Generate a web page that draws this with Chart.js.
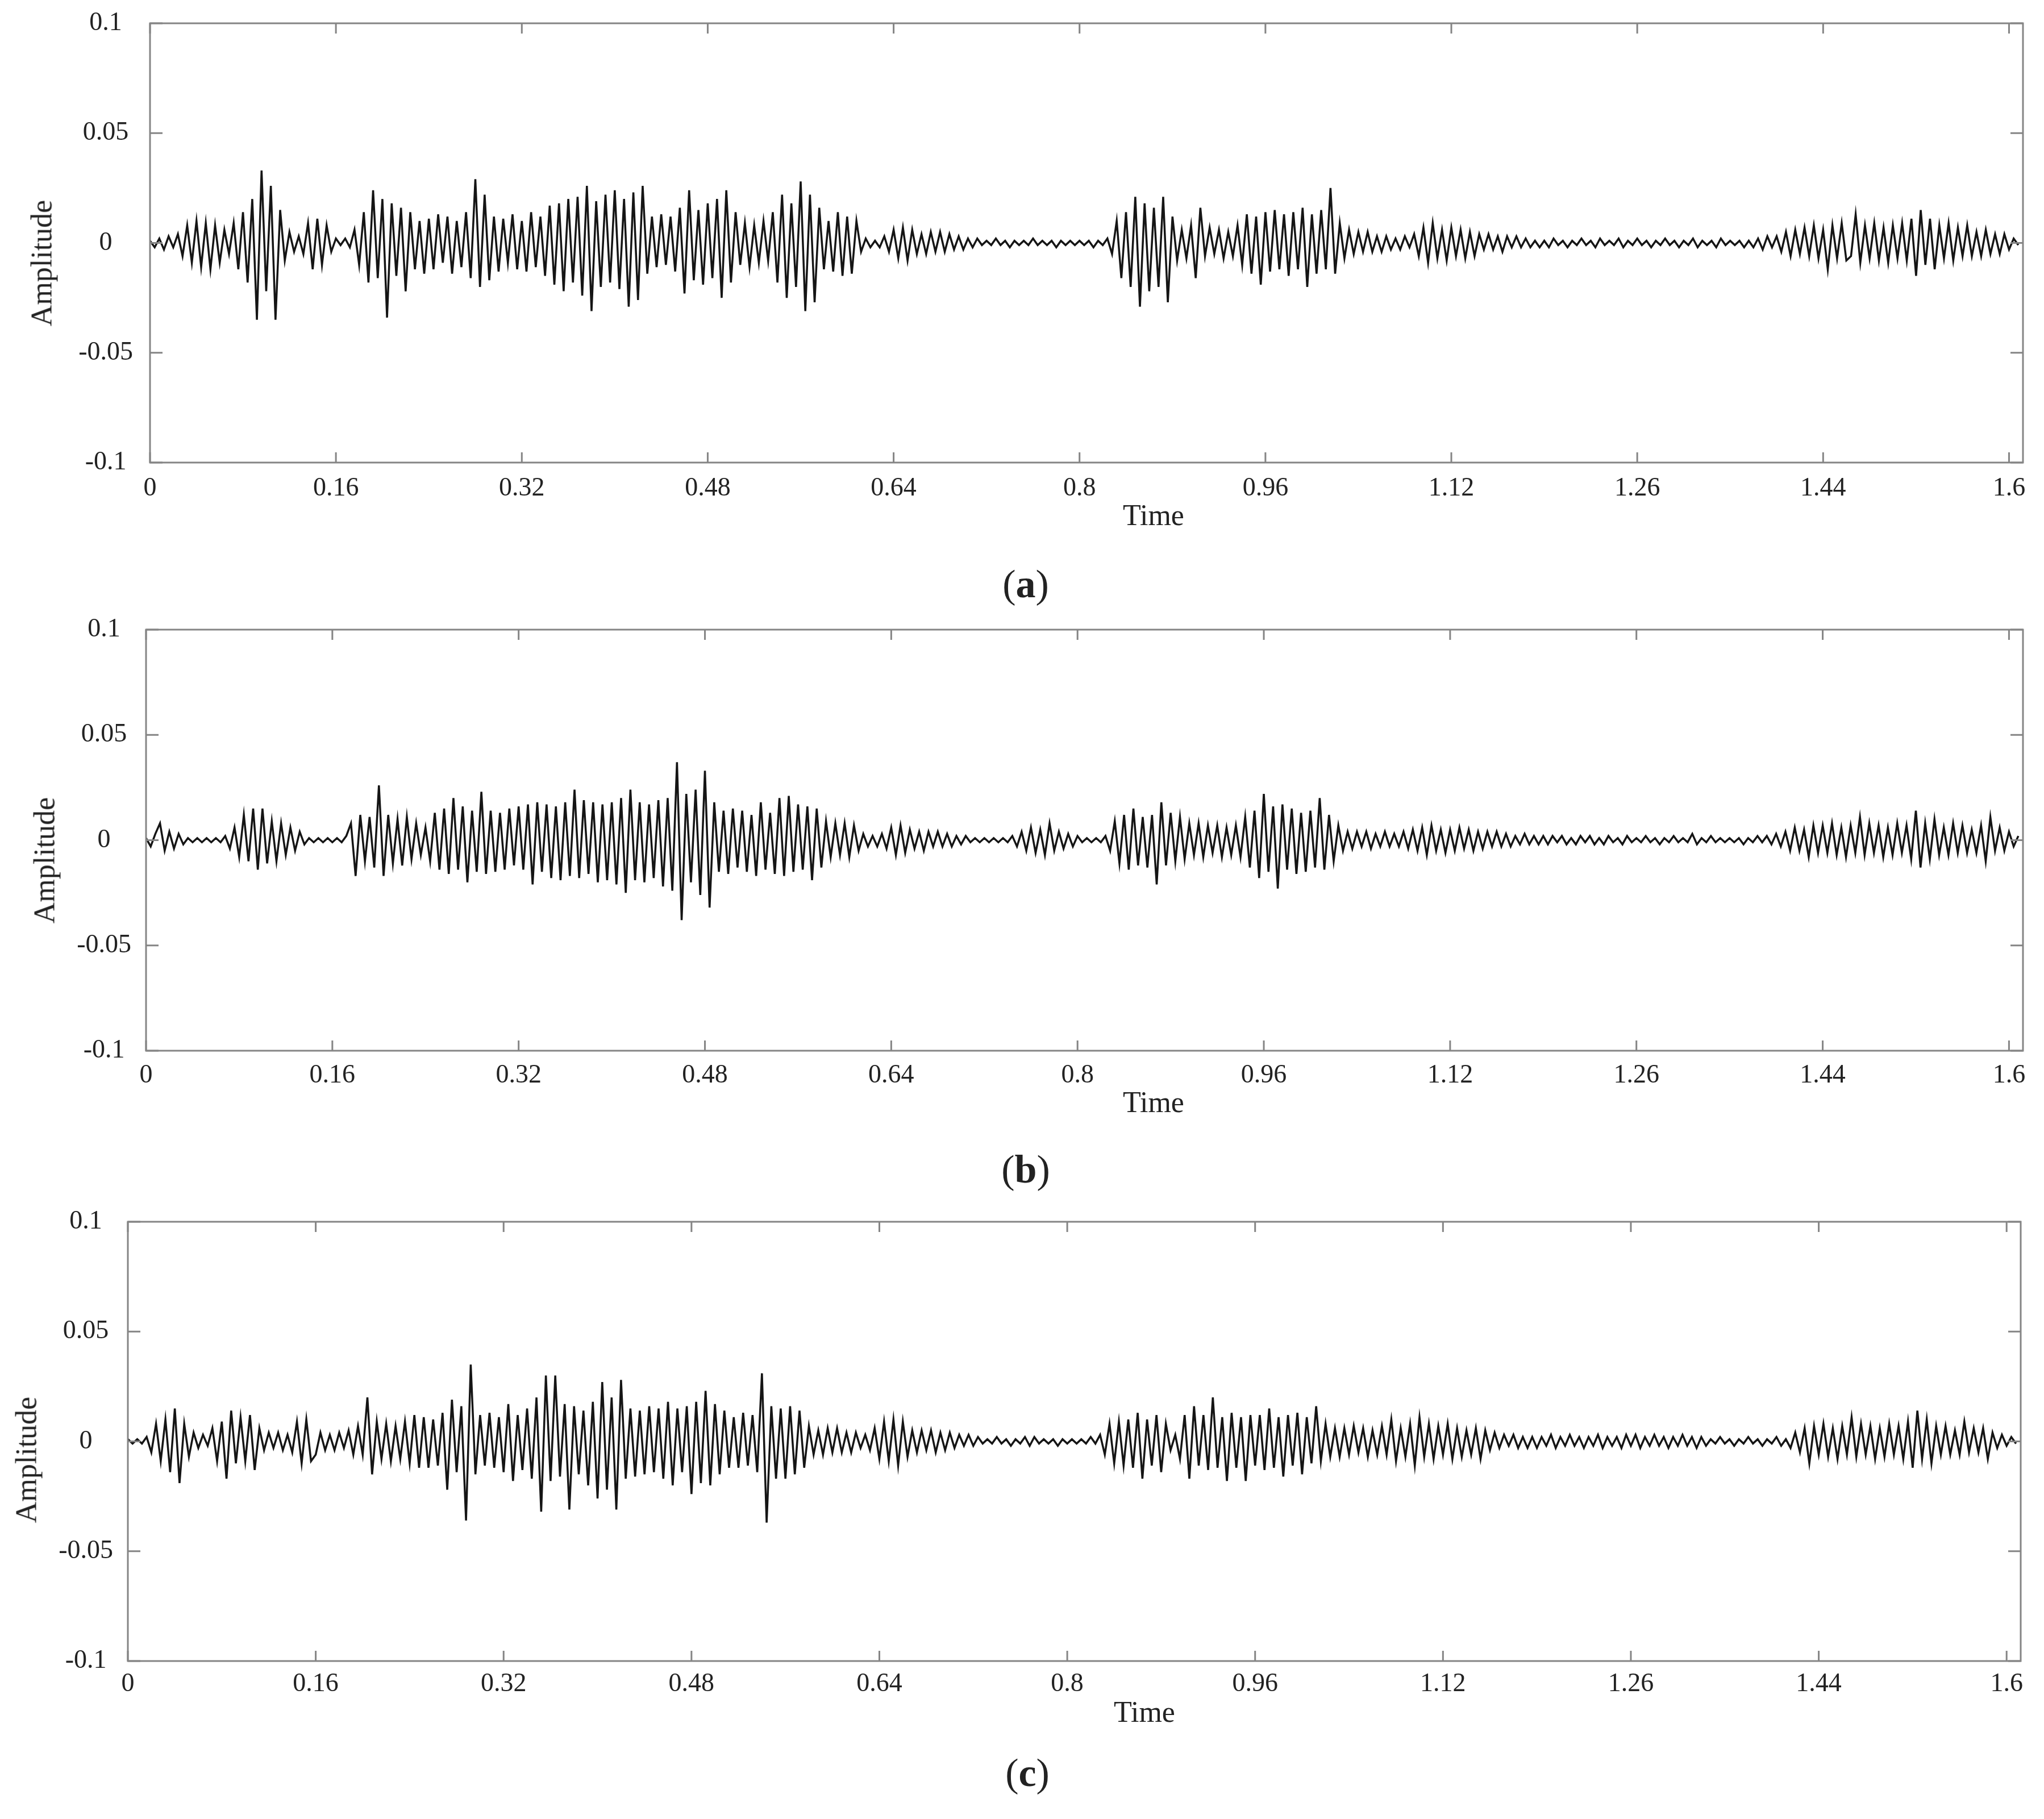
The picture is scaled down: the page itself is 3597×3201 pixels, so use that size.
<!DOCTYPE html>
<html lang="en">
<head>
<meta charset="UTF-8">
<title>Amplitude vs Time</title>
<script src="https://cdn.jsdelivr.net/npm/chart.js"></script>
<style>
  body { margin: 0; background: #fff; }
  #page {
    position: relative;
    width: 3597px;
    height: 3201px;
    overflow: hidden;
    font-family: 'Liberation Serif', 'Times New Roman', serif;
    color: #222;
  }
  canvas { position: absolute; left: 0; }
  .lbl { position: absolute; transform: translate(-50%, -50%); white-space: nowrap; }
  .ttl { font-size: 52px; }
  .amp { font-size: 52px; transform: translate(-50%, -50%) rotate(-90deg); }
  .cap { font-size: 70px; }
</style>
</head>
<body>
<div id="page">
  <canvas id="chartA"></canvas>
  <canvas id="chartB"></canvas>
  <canvas id="chartC"></canvas>

  <div class="lbl amp" style="left:73px; top:463px;">Amplitude</div>
  <div class="lbl ttl" style="left:2030px; top:906px;">Time</div>
  <div class="lbl cap" style="left:1805px; top:1028px;">(<b>a</b>)</div>

  <div class="lbl amp" style="left:78px; top:1514px;">Amplitude</div>
  <div class="lbl ttl" style="left:2030px; top:1939px;">Time</div>
  <div class="lbl cap" style="left:1805px; top:2058px;">(<b>b</b>)</div>

  <div class="lbl amp" style="left:46px; top:2569px;">Amplitude</div>
  <div class="lbl ttl" style="left:2014px; top:3012px;">Time</div>
  <div class="lbl cap" style="left:1808px; top:3120px;">(<b>c</b>)</div>
</div>

<script>
// time between samples (s); amplitudes below are in thousandths
const sampleStep = 0.004;

const timeTicks = [0, 0.16, 0.32, 0.48, 0.64, 0.8, 0.96, 1.12, 1.28, 1.44, 1.6];
const timeTickLabels = ['0', '0.16', '0.32', '0.48', '0.64', '0.8', '0.96', '1.12', '1.26', '1.44', '1.6'];
const ampTicks = [-0.1, -0.05, 0, 0.05, 0.1];
const ampTickLabels = ['-0.1', '-0.05', '0', '0.05', '0.1'];

// (a) one row = 0.08 s
const ampA = [
  1,-2,2,-3,3,-2,4,-6,8,-9,10,-11,9,-12,8,-9,6,-5,9,-12,
  14,-18,20,-35,33,-22,26,-35,15,-8,5,-4,3,-5,9,-12,11,-10,8,-4,
  2,-1,2,-2,6,-10,14,-18,24,-16,20,-34,18,-15,16,-22,14,-12,10,-14,
  11,-12,13,-9,12,-14,10,-11,14,-16,29,-20,22,-17,12,-13,11,-9,13,-12,
  10,-13,14,-11,12,-15,17,-19,18,-22,20,-18,21,-24,26,-31,19,-20,22,-18,
  24,-21,20,-29,23,-26,26,-14,12,-11,13,-10,12,-13,16,-23,24,-17,15,-19,
  18,-16,20,-25,24,-18,14,-10,9,-11,8,-9,10,-8,14,-18,22,-25,18,-20,
  28,-31,22,-27,16,-12,10,-13,14,-15,12,-14,10,-4,2,-2,1,-2,3,-4,
  6,-7,7,-8,6,-5,4,-5,5,-4,5,-4,4,-3,3,-3,2,-2,2,-1,
  1,-1,2,-1,1,-2,1,-1,1,-1,2,-1,1,-1,1,-2,1,-1,1,-1,
  1,-1,1,-2,1,-1,2,-5,10,-16,14,-20,21,-29,18,-22,16,-20,21,-27,
  12,-8,6,-7,8,-16,16,-6,7,-5,6,-7,5,-6,8,-10,13,-14,12,-19,
  14,-13,15,-12,13,-15,14,-12,16,-20,13,-14,15,-12,25,-14,9,-7,6,-5,
  5,-4,5,-4,3,-4,3,-3,2,-3,3,-2,4,-6,7,-9,9,-7,6,-8,
  7,-6,6,-7,5,-6,4,-3,4,-3,3,-4,3,-2,3,-2,2,-2,1,-2,
  1,-2,2,-1,1,-2,1,-1,2,-1,1,-2,2,-1,1,-1,2,-2,1,-1,
  2,-1,1,-2,1,-1,2,-1,1,-2,1,-1,2,-2,1,-1,1,-2,2,-1,
  1,-1,1,-2,1,-2,2,-3,3,-2,3,-4,5,-6,6,-5,7,-6,8,-7,
  6,-12,8,-7,9,-8,-6,13,-9,8,-7,9,-8,7,-9,8,-7,9,-8,11,
  -15,15,-10,11,-12,8,-7,9,-8,7,-6,8,-6,5,-6,6,-5,4,-5,4,
  -3,2,-1
];

// (b)
const ampB = [
  1,-3,3,8,-5,4,-4,3,-2,1,-1,1,-1,1,-1,1,-1,2,-4,6,
  -8,12,-10,15,-14,15,-11,9,-10,8,-7,6,-5,4,-2,1,-1,1,-1,1,
  -1,1,-1,2,8,-17,12,-10,11,-13,26,-17,12,-11,10,-12,11,-9,8,-7,
  6,-10,13,-14,15,-16,20,-14,16,-20,14,-15,23,-16,14,-15,13,-14,15,-12,
  16,-14,17,-21,18,-15,17,-18,16,-19,18,-17,24,-18,19,-16,18,-20,17,-19,
  18,-21,20,-25,24,-19,18,-20,17,-18,19,-22,20,-24,37,-38,22,-20,24,-26,
  33,-32,18,-15,14,-16,15,-13,14,-15,12,-17,18,-14,13,-16,20,-17,21,-15,
  17,-14,16,-19,15,-13,9,-8,8,-7,8,-8,7,-5,3,-3,2,-3,3,-4,
  6,-7,7,-6,5,-4,4,-5,4,-3,4,-3,3,-3,2,-2,2,-1,1,-1,
  1,-1,1,-1,1,-1,2,-3,4,-5,6,-6,5,-7,8,-5,4,-4,3,-3,
  2,-1,1,-1,1,-1,2,-5,9,-11,12,-14,15,-12,11,-13,12,-21,18,-12,
  13,-10,11,-9,8,-7,8,-8,7,-6,7,-8,6,-7,7,-8,11,-13,14,-18,
  22,-15,16,-23,17,-14,15,-16,13,-15,14,-13,20,-14,12,-10,7,-5,4,-4,
  4,-3,4,-4,3,-3,4,-3,3,-3,4,-4,5,-5,6,-7,7,-5,5,-6,
  5,-5,6,-4,5,-5,4,-4,4,-3,4,-3,3,-3,2,-2,3,-2,2,-2,
  2,-2,2,-1,2,-2,1,-2,2,-1,2,-2,1,-2,2,-1,1,-2,2,-1,
  1,-1,2,-1,1,-2,1,-1,2,-1,1,-1,3,-2,1,-1,2,-1,1,-1,
  1,-1,1,-2,1,-1,2,-1,2,-2,3,-3,4,-5,6,-5,5,-8,7,-6,
  7,-6,8,-7,6,-8,7,-6,11,-7,8,-6,7,-8,6,-7,8,-6,7,-9,
  14,-13,8,-9,10,-7,6,-7,8,-6,7,-6,5,-6,7,-10,11,-5,6,-5,
  4,-3,2
];

// (c)
const ampC = [
  1,-1,1,-1,2,-5,8,-9,10,-14,15,-19,8,-7,4,-3,3,-2,6,-9,
  9,-17,14,-10,11,-9,12,-13,6,-4,4,-3,4,-4,3,-5,9,-10,10,-9,
  -6,4,-4,3,-4,4,-3,5,-6,7,-6,20,-15,9,-8,8,-9,7,-8,9,
  -10,12,-12,11,-12,10,-11,13,-22,19,-14,16,-36,35,-15,12,-11,13,-12,11,
  -14,17,-18,12,-13,15,-17,20,-32,30,-18,30,-16,17,-31,16,-15,14,-20,18,
  -26,27,-22,20,-31,28,-17,15,-16,14,-15,16,-14,15,-17,18,-20,15,-14,16,
  -24,18,-19,23,-20,17,-15,14,-12,11,-12,13,-11,12,-14,31,-37,16,-17,15,
  -17,16,-15,14,-12,7,-6,5,-6,6,-5,6,-5,4,-5,4,-3,3,-4,6,
  -8,9,-9,10,-11,9,-7,5,-5,5,-4,5,-5,4,-4,4,-3,3,-2,3,
  -2,2,-1,1,-1,2,-1,1,-2,1,-1,2,-2,2,-1,1,-1,1,-2,1,
  -1,1,-1,1,-1,2,-1,3,-6,8,-10,9,-11,10,-12,13,-17,10,-11,12,
  -14,8,-4,3,-8,12,-17,16,-11,12,-13,20,-12,11,-18,13,-12,11,-18,12,
  -11,12,-13,15,-12,11,-16,12,-11,13,-15,11,-10,16,-9,8,-7,6,-7,6,
  -6,7,-5,6,-7,5,-6,7,-6,10,-9,6,-7,8,-11,11,-7,8,-8,7,
  -6,8,-8,6,-7,5,-6,6,-8,5,-4,4,-3,3,-2,3,-3,2,-3,2,
  -3,2,-2,3,-3,2,-2,3,-2,2,-3,2,-2,3,-3,2,-2,2,-3,3,
  -2,3,-3,2,-2,3,-2,2,-3,2,-2,3,-2,2,-3,2,-2,1,-1,2,
  -1,1,-2,1,-1,2,-1,1,-2,1,-1,2,-2,1,-3,4,-5,6,-10,7,
  -6,8,-7,6,-8,7,-6,11,-7,8,-6,7,-8,6,-7,8,-6,7,-8,9,
  -12,14,-8,10,-10,7,-6,7,-6,5,-6,9,-5,6,-5,6,-8,4,-3,3,
  -2,2,-1
];

// where each plot box sits on the page
const panels = [
  { id: 'chartA', amp: ampA, top: -40,  height: 940, left: 264, right: 3560, plotTop: 41,   plotBottom: 814,  xPad: 18, yPad: 30 },
  { id: 'chartB', amp: ampB, top: 1030, height: 920, left: 257, right: 3560, plotTop: 1108, plotBottom: 1849, xPad: 16, yPad: 26 },
  { id: 'chartC', amp: ampC, top: 2070, height: 960, left: 225, right: 3556, plotTop: 2150, plotBottom: 2923, xPad: 13, yPad: 26 }
];

const tickFont = { family: "'Liberation Serif', 'Times New Roman', serif", size: 46 };

// grey box with short inward ticks on all four sides
const frame = {
  id: 'frame',
  afterDraw(chart) {
    const { ctx, chartArea: a, scales: { x, y } } = chart;
    ctx.save();
    ctx.strokeStyle = '#858585';
    ctx.lineWidth = 3;
    ctx.strokeRect(a.left, a.top, a.right - a.left, a.bottom - a.top);
    ctx.beginPath();
    x.ticks.forEach(t => {
      const px = x.getPixelForValue(t.value);
      ctx.moveTo(px, a.top); ctx.lineTo(px, a.top + 18);
      ctx.moveTo(px, a.bottom); ctx.lineTo(px, a.bottom - 18);
    });
    y.ticks.forEach(t => {
      const py = y.getPixelForValue(t.value);
      ctx.moveTo(a.left, py); ctx.lineTo(a.left + 22, py);
      ctx.moveTo(a.right, py); ctx.lineTo(a.right - 22, py);
    });
    ctx.stroke();
    ctx.restore();
  }
};

function drawPanel(p) {
  const canvas = document.getElementById(p.id);
  canvas.width = 3597;
  canvas.height = p.height;
  canvas.style.top = p.top + 'px';

  const points = p.amp.map((v, i) => ({ x: i * sampleStep, y: v / 1000 }));

  new Chart(canvas, {
    type: 'line',
    data: {
      datasets: [{
        data: points,
        borderColor: '#151515',
        borderWidth: 3.5,
        borderJoinStyle: 'miter',
        pointRadius: 0,
        tension: 0
      }]
    },
    options: {
      responsive: false,
      animation: false,
      devicePixelRatio: 1,
      layout: { padding: { left: 0, right: 3597 - p.right, top: p.plotTop - p.top, bottom: 0 } },
      plugins: { legend: { display: false }, tooltip: { enabled: false } },
      scales: {
        x: {
          type: 'linear',
          min: 0,
          max: 1.612,
          grid: { display: false, drawTicks: false },
          border: { display: false },
          afterFit: s => { s.height = p.top + p.height - p.plotBottom; },
          afterBuildTicks: s => { s.ticks = timeTicks.map(v => ({ value: v })); },
          ticks: {
            padding: p.xPad,
            color: '#222',
            font: tickFont,
            maxRotation: 0,
            autoSkip: false,
            callback: (v, i) => timeTickLabels[i]
          }
        },
        y: {
          type: 'linear',
          min: -0.1,
          max: 0.1,
          grid: { display: false, drawTicks: false },
          border: { display: false },
          afterFit: s => { s.width = p.left; },
          afterBuildTicks: s => { s.ticks = ampTicks.map(v => ({ value: v })); },
          ticks: {
            padding: p.yPad,
            crossAlign: 'center',
            color: '#222',
            font: tickFont,
            autoSkip: false,
            callback: (v, i) => ampTickLabels[i]
          }
        }
      }
    },
    plugins: [frame]
  });
}

panels.forEach(drawPanel);
</script>
</body>
</html>
